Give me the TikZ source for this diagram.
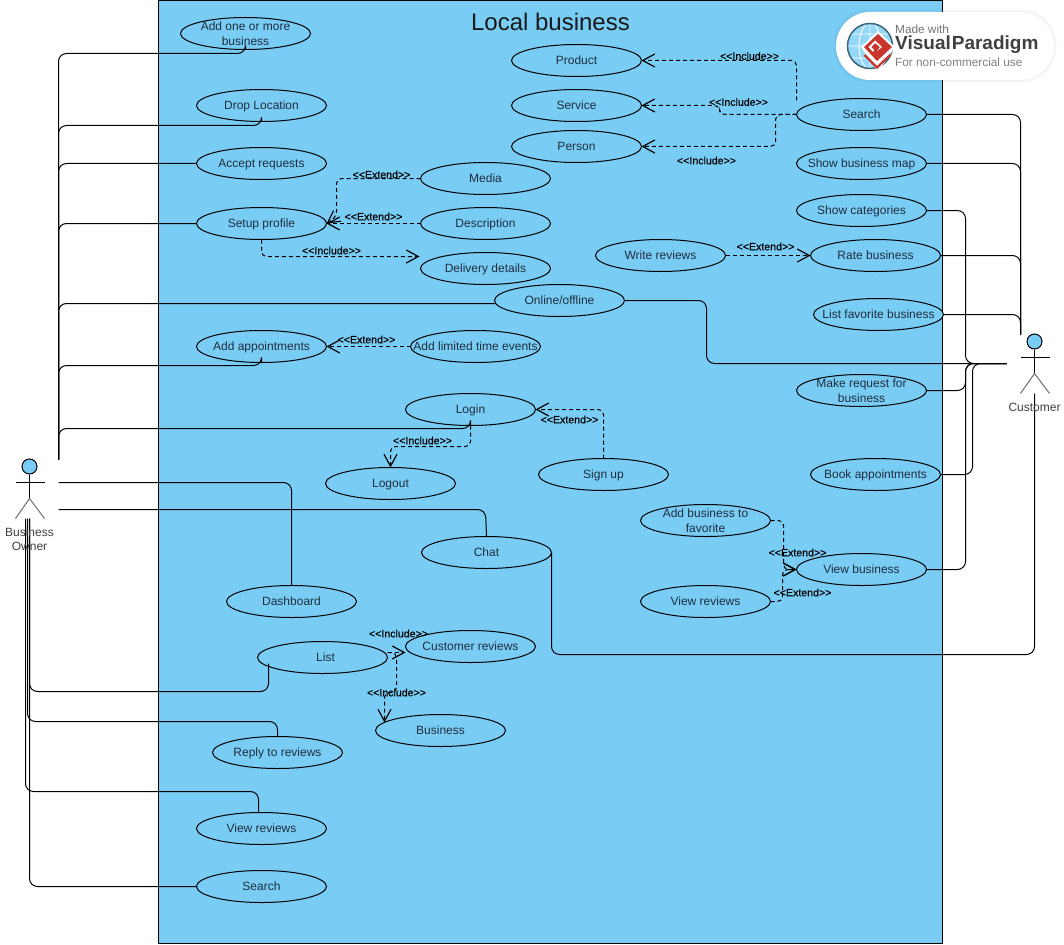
\documentclass[tikz,border=0pt]{standalone}
\usepackage{fontspec}
\setmainfont{Liberation Sans}
\newfontfamily\stereofont[FakeBold=0.35]{Liberation Sans}
\usetikzlibrary{shapes.geometric,arrows.meta}
\definecolor{sysblue}{HTML}{79CDF5}
\definecolor{inktext}{HTML}{1F2D3D}
\definecolor{actorgray}{HTML}{6E6E6E}
\definecolor{vpred}{HTML}{C9362E}
\newcommand{\incl}{{<}{<}Include{>}{>}}
\newcommand{\extd}{{<}{<}Extend{>}{>}}
\tikzset{
 ucbase/.style={ellipse,draw=black,line width=1pt,fill=sysblue,minimum width=130pt,minimum height=32pt,inner xsep=-25pt,inner ysep=-6pt,outer sep=0pt,align=center,text=inktext,font=\fontsize{12}{14.5}\selectfont},
 uc/.style={ucbase,text height=8.6pt,text depth=0pt},
 ucb/.style={ucbase},
 wire/.style={draw=black,line width=1pt,rounded corners=8pt},
 dep/.style={draw=black,line width=1pt,dash pattern=on 4pt off 3pt,rounded corners=5pt,-{Straight Barb[length=12pt,width=13pt,line width=1.2pt]}},
 stereo/.style={font=\fontsize{10.6}{12}\stereofont,text=black,inner sep=0pt},
 actorlabel/.style={align=center,text=black!75,font=\fontsize{12}{14}\selectfont,inner sep=0pt},
}
\begin{document}
\begin{tikzpicture}[x=1pt,y=-1pt]
\useasboundingbox (0,0) rectangle (1064,944);
\fill[white] (0,0) rectangle (1064,944);
\node[draw=black,line width=1pt,fill=sysblue,minimum width=784pt,minimum height=942.5pt,inner sep=0pt,outer sep=0pt,anchor=north west] (sys) at (158.5,0.5) {};
\begin{scope}[shift={(0.5,0.5)}]
\node[font=\fontsize{24}{28}\selectfont,text=black!90] (title) at (550,21) {Local business};

% use cases
\node[ucb] (addone) at (245,33) {Add one or more\\business};
\node[uc] (drop) at (261,105) {Drop Location};
\node[uc] (accept) at (261,163) {Accept requests};
\node[uc] (setup) at (261,223) {Setup profile};
\node[uc] (media) at (485,178) {Media};
\node[uc] (descr) at (485,223) {Description};
\node[uc] (delivery) at (485,268) {Delivery details};
\node[uc] (online) at (559,300) {Online/offline};
\node[uc] (addapp) at (261,346) {Add appointments};
\node[uc] (limited) at (475,346) {Add limited time events};
\node[uc] (login) at (470,409) {Login};
\node[uc] (signup) at (603,474) {Sign up};
\node[uc] (logout) at (390,483) {Logout};
\node[uc] (chat) at (486,552) {Chat};
\node[uc] (dash) at (291,601) {Dashboard};
\node[uc] (list) at (322,657) {\kern6pt List};
\node[uc] (custrev) at (470,646) {Customer reviews};
\node[uc] (bus) at (440,730) {Business};
\node[uc] (reply) at (277,752) {Reply to reviews};
\node[uc] (viewrevL) at (261,828) {View reviews};
\node[uc] (searchL) at (261,886) {Search};
\node[uc] (product) at (576,60) {Product};
\node[uc] (service) at (576,105) {Service};
\node[uc] (person) at (576,146) {Person};
\node[uc] (searchR) at (861,114) {Search};
\node[uc] (map) at (861,163) {Show business map};
\node[uc] (cats) at (861,210) {Show categories};
\node[uc] (write) at (660,255) {Write reviews};
\node[uc] (rate) at (875,255) {Rate business};
\node[uc] (fav) at (878,314) {List favorite business};
\node[ucb] (request) at (861,390) {Make request for\\business};
\node[uc] (book) at (875,474) {Book appointments};
\node[ucb] (addfav) at (705,520) {Add business to\\favorite};
\node[uc] (viewbus) at (861,569) {View business};
\node[uc] (viewrevR) at (705,601) {View reviews};

% actor connector ends
\coordinate (ownerTop) at (58,459);
\coordinate (ownerA) at (58,482);
\coordinate (ownerB) at (58,509);
\coordinate (ownerC) at (29,518);
\coordinate (ownerD) at (27,518);
\coordinate (ownerE) at (25,518);
\coordinate (custTop) at (1020,334);
\coordinate (custSide) at (1006,363);
\coordinate (custFoot) at (1034,393);
\coordinate (deliveryIn) at (419,256);

% solid connectors, business owner
\draw[wire] (addone.south) -- (245,53) -- (58,53) -- (ownerTop);
\draw[wire] (drop.south) -- (261,125) -- (58,125) -- (ownerTop);
\draw[wire] (accept.west) -- (58,163) -- (ownerTop);
\draw[wire] (setup.west) -- (58,223) -- (ownerTop);
\draw[wire] (online.west) ++(0,3) -- (58,303) -- (ownerTop);
\draw[wire] (addapp.south) -- (261,365) -- (58,365) -- (ownerTop);
\draw[wire] (login.south) -- (470,428) -- (58,428) -- (ownerTop);
\draw[wire] (dash.north) -- (291,482) -- (ownerA);
\draw[wire] (chat.north) -- (485,509) -- (ownerB);
\draw[wire] (268,663) -- (268,691) -- (29,691) -- (ownerC);
\draw[wire] (reply.north) -- (277,721) -- (27,721) -- (ownerD);
\draw[wire] (258,812) -- (258,791) -- (25,791) -- (ownerE);
\draw[wire] (searchL.west) -- (29,886) -- (ownerC);

% solid connectors, customer
\draw[wire] (searchR.east) -- (1020,114) -- (custTop);
\draw[wire] (map.east) -- (1020,163) -- (custTop);
\draw[wire] (rate.east) -- (1020,255) -- (custTop);
\draw[wire] (fav.east) -- (1020,314) -- (custTop);
\draw[wire] (online.east) -- (706,300) -- (706,363) -- (custSide);
\draw[wire] (cats.east) -- (965,210) -- (965,363) -- (custSide);
\draw[wire] (request.east) -- (965,390) -- (965,363) -- (custSide);
\draw[wire] (book.east) -- (972,474) -- (972,363) -- (custSide);
\draw[wire] (viewbus.east) -- (965,569) -- (965,363) -- (custSide);
\draw[wire] (chat.east) -- (551,654) -- (1034,654) -- (custFoot);

% dashed dependencies
\draw[dep] (796,100) -- (796,60) -- (product.east);
\draw[dep] (searchR.west) -- (719,114) -- (719,105) -- (service.east);
\draw[dep] (searchR.west) -- (775,114) -- (775,146) -- (person.east);
\draw[dep] (media.west) -- (336,178) -- (336,216) -- (setup.east);
\draw[dep] (descr.west) -- (setup.east);
\draw[dep] (setup.south) -- (261,256) -- (deliveryIn);
\draw[dep] (write.east) -- (rate.west);
\draw[dep] (limited.west) -- (addapp.east);
\draw[dep] (signup.north) -- (603,409) -- (login.east);
\draw[dep] (login.south) -- (470,446) -- (390,446) -- (logout.north);
\draw[dep] (addfav.east) -- (783,520) -- (783,569) -- (viewbus.west);
\draw[dep] (viewrevR.east) -- (782,601) -- (782,569) -- (viewbus.west);
\draw[dep] (387,652) -- (custrev.west |- 0,652);
\draw[dep] (387,652) -- (396,652) -- (396,692) -- (384,692) -- (384,722);

% stereotypes
\node[stereo] (s1) at (749,55.5) {\incl};
\node[stereo] (s2) at (738,101.5) {\incl};
\node[stereo] (s3) at (706,160) {\incl};
\node[stereo] (s4) at (381,174) {\extd};
\node[stereo] (s5) at (373,216) {\extd};
\node[stereo] (s6) at (331,250) {\incl};
\node[stereo] (s7) at (765,246) {\extd};
\node[stereo] (s8) at (366,339) {\extd};
\node[stereo] (s9) at (569,419) {\extd};
\node[stereo] (s10) at (422,440) {\incl};
\node[stereo] (s11) at (797,552) {\extd};
\node[stereo] (s12) at (802,592) {\extd};
\node[stereo] (s13) at (398,633) {\incl};
\node[stereo] (s14) at (396,692) {\incl};

% actor figures
\node[circle,draw=black,line width=1pt,fill=sysblue,minimum size=15pt,inner sep=0pt] (ownerHead) at (29,466) {};
\draw[line width=1pt] (ownerHead.south) -- (29,498) (15,482) -- (44,482);
\draw[line width=1pt,actorgray] (15,518) -- (29,498) -- (44,518);
\node[actorlabel] (ownerLabel) at (29,539) {Business\\Owner};
\node[circle,draw=black,line width=1pt,fill=sysblue,minimum size=15pt,inner sep=0pt] (custHead) at (1034,341) {};
\draw[line width=1pt] (custHead.south) -- (1034,373) (1020,357) -- (1049,357);
\draw[line width=1pt,actorgray] (1020,393) -- (1034,373) -- (1049,393);
\node[actorlabel] (custLabel) at (1034,407) {Customer};
\end{scope}

% watermark
\foreach \g/\o in {3/0.012,2/0.016,1/0.02}{
 \fill[black,opacity=\o,rounded corners=34pt] (836-\g,12-\g) rectangle (1054+\g,80+\g);
}
\fill[white,rounded corners=34pt] (836,12) rectangle (1054,80);
\fill[sysblue!80!white] (870,46) circle[radius=22.5];
\begin{scope}
\clip (870,46) circle[radius=22.5];
\draw[white,line width=0.9pt] (847,46) -- (893,46) (870,23) -- (870,69) (851,34) -- (889,34) (851,58) -- (889,58) (870,46) ellipse[x radius=11,y radius=23];
\end{scope}
\draw[black!50!sysblue,line width=1.5pt] (870,46) circle[radius=22.5];
\fill[white] (878,31) -- (895,47) -- (878,72) -- (861,47) -- cycle;
\fill[vpred] (878,34) -- (892,47) -- (877,61) -- (864,47) -- cycle;
\fill[white] (875,40.5) -- (882,47) -- (877,51) -- (880,47) -- (875,43) -- (871,47) -- (874,50) -- (873,52) -- (868.5,47) -- cycle;
\draw[vpred,line width=2.2pt] (864.5,55) -- (877,67.5) -- (890,55);
\node[font=\fontsize{11.8}{13}\selectfont,text=black!55,anchor=west,inner sep=0pt] (wm1) at (895,29.5) {Made with};
\node[font=\fontsize{19}{21}\selectfont\bfseries,text=black!75,anchor=west,inner sep=0pt] (wm2) at (895,45) {Visual\kern1pt Paradigm};
\node[font=\fontsize{11.8}{13}\selectfont,text=black!50,anchor=west,inner sep=0pt] (wm3) at (895,62) {For non-commercial use};
\end{tikzpicture}
\end{document}
